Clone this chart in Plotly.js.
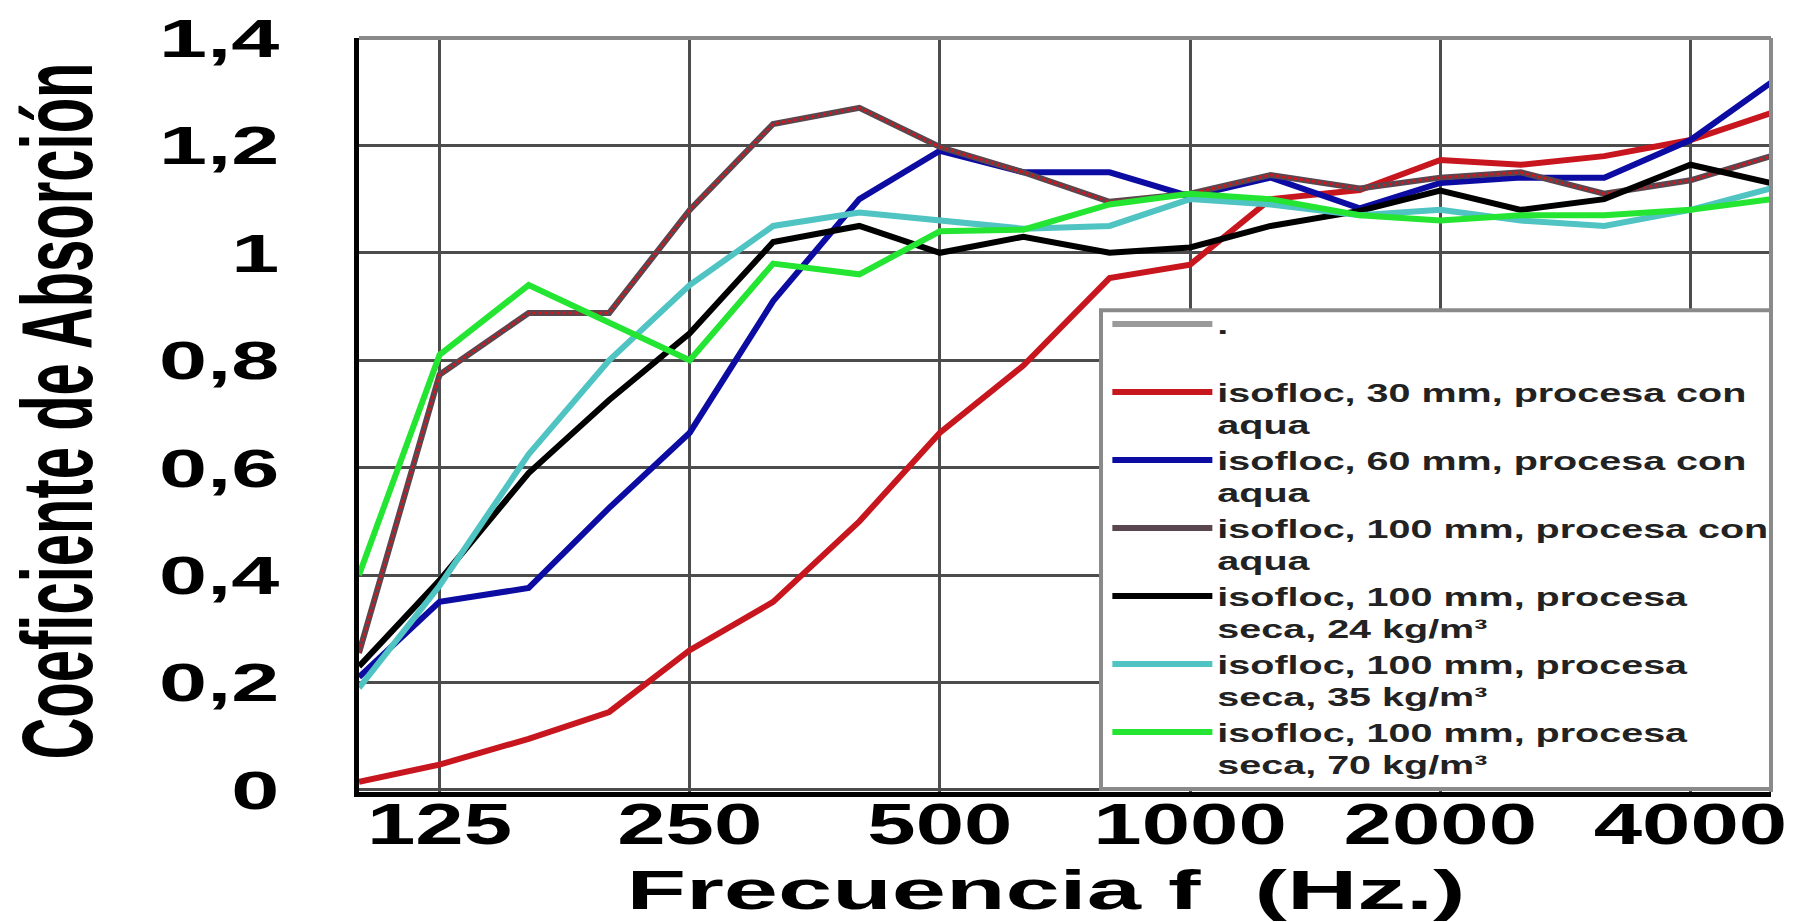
<!DOCTYPE html>
<html>
<head>
<meta charset="utf-8">
<script src="https://cdn.plot.ly/plotly-3.0.1.min.js"></script>
<style>
html, body { margin: 0; padding: 0; background: #ffffff; }
#chart { width: 1803px; height: 922px; }
</style>
</head>
<body>
<div id="chart"></div>
<script>
// ---- data ----
const freq = [100, 125, 160, 200, 250, 315, 400, 500, 630, 800, 1000, 1250, 1600, 2000, 2500, 3150, 4000, 5000];

const tickFreq = [125, 250, 500, 1000, 2000, 4000];
const tickFreqText = ['125', '250', '500', '1000', '2000', '4000'];

const yTickVals = [0, 0.2, 0.4, 0.6, 0.8, 1.0, 1.2, 1.4];
const yTickText = ['0', '0,2', '0,4', '0,6', '0,8', '1', '1,2', '1,4'];

// the reference legend has an empty first entry (grey line, label ".") with no plotted values
const emptyX = [100];
const emptyY = [null];

const red30mmAqua = [0.015, 0.047, 0.095, 0.145, 0.26, 0.35, 0.50, 0.665, 0.79, 0.953, 0.978, 1.10, 1.117, 1.173, 1.164, 1.18, 1.21, 1.26];
const blue60mmAqua = [0.21, 0.35, 0.376, 0.525, 0.665, 0.91, 1.10, 1.19, 1.15, 1.15, 1.105, 1.14, 1.083, 1.13, 1.14, 1.14, 1.21, 1.317];
const brown100mmAqua = [0.255, 0.773, 0.888, 0.888, 1.08, 1.24, 1.27, 1.197, 1.15, 1.095, 1.11, 1.145, 1.12, 1.14, 1.15, 1.11, 1.135, 1.18];
const black100mmSeca24 = [0.23, 0.39, 0.59, 0.726, 0.85, 1.02, 1.05, 1.00, 1.03, 1.00, 1.01, 1.05, 1.078, 1.116, 1.08, 1.10, 1.164, 1.13];
const cyan100mmSeca35 = [0.19, 0.38, 0.625, 0.80, 0.94, 1.05, 1.075, 1.06, 1.045, 1.05, 1.10, 1.09, 1.07, 1.08, 1.06, 1.05, 1.08, 1.12];
const green100mmSeca70 = [0.40, 0.81, 0.94, 0.87, 0.80, 0.98, 0.96, 1.04, 1.043, 1.09, 1.11, 1.10, 1.07, 1.06, 1.07, 1.07, 1.08, 1.10];

const seriesNames = [
  '.<br>\u00a0',
  'isofloc, 30 mm, procesa con<br>aqua',
  'isofloc, 60 mm, procesa con<br>aqua',
  'isofloc, 100 mm, procesa con<br>aqua',
  'isofloc, 100 mm, procesa<br>seca, 24 kg/m\u00b3',
  'isofloc, 100 mm, procesa<br>seca, 35 kg/m\u00b3',
  'isofloc, 100 mm, procesa<br>seca, 70 kg/m\u00b3'
];

const FONT = 'Liberation Sans, Arial, Helvetica, sans-serif';
const LW = 6;

const traces = [
  { x: emptyX, y: emptyY, name: seriesNames[0], mode: 'lines', line: { color: '#9a9a9a', width: LW } },
  { x: freq, y: red30mmAqua, name: seriesNames[1], mode: 'lines', line: { color: '#c8161e', width: LW } },
  { x: freq, y: blue60mmAqua, name: seriesNames[2], mode: 'lines', line: { color: '#0c0ca2', width: LW } },
  { x: freq, y: brown100mmAqua, name: seriesNames[3], mode: 'lines', line: { color: '#5a464e', width: LW } },
  { x: freq, y: brown100mmAqua, name: seriesNames[3], mode: 'lines', showlegend: false, line: { color: '#d8141c', width: 2.5, dash: 'dot' } },
  { x: freq, y: black100mmSeca24, name: seriesNames[4], mode: 'lines', line: { color: '#000000', width: LW } },
  { x: freq, y: cyan100mmSeca35, name: seriesNames[5], mode: 'lines', line: { color: '#50c3c3', width: LW } },
  { x: freq, y: green100mmSeca70, name: seriesNames[6], mode: 'lines', line: { color: '#24e532', width: LW } }
];

const layout = {
  width: 1803,
  height: 922,
  margin: { l: 359, r: 32, t: 38, b: 130 },
  paper_bgcolor: '#ffffff',
  plot_bgcolor: '#ffffff',
  showlegend: true,
  hovermode: false,
  xaxis: {
    type: 'log',
    range: [2, Math.log10(5000)],
    tickvals: tickFreq,
    ticktext: tickFreqText,
    ticks: '',
    showgrid: true,
    gridcolor: '#4c4c4c',
    gridwidth: 3,
    zeroline: false,
    showline: true,
    linecolor: '#000000',
    linewidth: 5,
    tickfont: { family: FONT, size: 58, color: '#000000', weight: 'bold' },
    title: { text: 'Frecuencia f\u00a0 (Hz.)', font: { family: FONT, size: 56, color: '#000000', weight: 'bold' } }
  },
  yaxis: {
    range: [-0.004, 1.4],
    tickvals: yTickVals,
    ticktext: yTickText,
    ticks: '',
    ticklabelstandoff: 64,
    showgrid: true,
    gridcolor: '#4c4c4c',
    gridwidth: 3,
    zeroline: false,
    showline: true,
    linecolor: '#000000',
    linewidth: 5,
    tickfont: { family: FONT, size: 54, color: '#000000', weight: 'bold' },
    title: { text: 'Coeficiente de Absorción', font: { family: FONT, size: 58, color: '#000000', weight: 'bold' } }
  },
  legend: {
    x: 0.53,
    y: 0.651,
    xanchor: 'left',
    yanchor: 'top',
    bgcolor: 'rgba(0,0,0,0)',
    borderwidth: 0,
    itemwidth: 100,
    valign: 'top',
    font: { family: FONT, size: 25, color: '#222222', weight: 'bold' }
  },
  shapes: [
    { type: 'line', xref: 'paper', yref: 'paper', x0: 0, x1: 1, y0: 1, y1: 1, line: { color: '#8a8a8a', width: 4 }, layer: 'above' },
    { type: 'line', xref: 'paper', yref: 'paper', x0: 1, x1: 1, y0: 0, y1: 1, line: { color: '#8a8a8a', width: 4 }, layer: 'above' },
    { type: 'rect', xref: 'paper', yref: 'paper', x0: 0.5255, x1: 1, y0: 0.004, y1: 0.639, fillcolor: '#ffffff', line: { color: '#8a8a8a', width: 4 }, layer: 'above' }
  ]
};

function stretch(sel, sx, sy, anchor) {
  document.querySelectorAll(sel).forEach(function (el) {
    const b = el.getBBox();
    const ax = anchor === 'end' ? b.x + b.width : (anchor === 'start' ? b.x : b.x + b.width / 2);
    const ay = b.y + b.height / 2;
    const t = el.getAttribute('transform') || '';
    el.setAttribute('transform', t + ' translate(' + ax + ',' + ay + ') scale(' + sx + ',' + sy + ') translate(' + (-ax) + ',' + (-ay) + ')');
  });
}
function shift(sel, dx, dy) {
  document.querySelectorAll(sel).forEach(function (el) {
    el.setAttribute('transform', 'translate(' + dx + ',' + dy + ') ' + (el.getAttribute('transform') || ''));
  });
}
function moveTo(sel, cx, cy) {
  document.querySelectorAll(sel).forEach(function (el) {
    const r = el.getBoundingClientRect();
    const dx = cx - (r.left + r.width / 2);
    const dy = cy - (r.top + r.height / 2);
    el.setAttribute('transform', 'translate(' + dx + ',' + dy + ') ' + (el.getAttribute('transform') || ''));
  });
}

Plotly.newPlot('chart', traces, layout, { staticPlot: true, displayModeBar: false }).then(function () {
  stretch('.xtick text', 1.5, 1, 'mid');
  shift('.xtick text', 0, -23);
  stretch('.ytick text', 1.6, 1, 'end');
  stretch('text.legendtext', 1.58, 1, 'start');
  stretch('text.xtitle', 1.74, 1, 'mid');
  moveTo('text.xtitle', 1046, 890);
  stretch('text.ytitle', 1, 1.72, 'mid');
  moveTo('text.ytitle', 57, 411);
  document.querySelectorAll('.legend .scrollbox, .legend').forEach(function (e) { e.removeAttribute('clip-path'); });
});
</script>
</body>
</html>
